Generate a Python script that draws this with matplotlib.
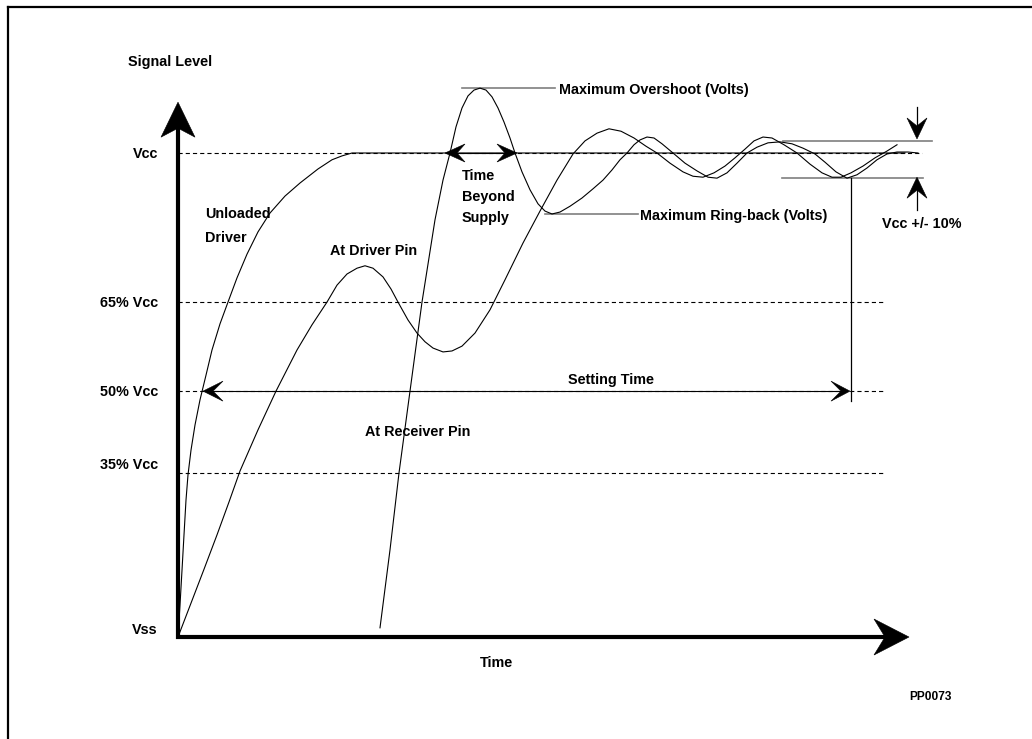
import matplotlib
matplotlib.use('Agg')
import matplotlib.pyplot as plt
from matplotlib.patches import Polygon
from matplotlib.lines import Line2D
import matplotlib.transforms as mtransforms
import numpy as np

plt.rcParams['font.family'] = ['Liberation Sans', 'DejaVu Sans']
plt.rcParams['lines.scale_dashes'] = False

# ---------------- data (time: arbitrary units, level: fraction of Vcc) ----------------
level_labels = ['Vcc', '65% Vcc', '50% Vcc', '35% Vcc', 'Vss']
level_pos = [1.0, 0.692, 0.508, 0.339, 0.0]          # drawn position of each guide level
label_pos = [0.998, 0.690, 0.506, 0.355, 0.014]      # text position of each level label

unloaded_t = [0.0, 0.2, 0.4, 0.6, 0.8, 1.0, 1.3, 1.7, 2.2, 2.8, 3.4, 4.2, 5.0, 5.9, 6.9,
              8.0, 9.2, 10.7, 12.2, 14.0, 15.4, 16.4, 17.4, 72.7]
unloaded_v = [0.0, 0.066, 0.138, 0.211, 0.283, 0.335, 0.386, 0.438, 0.490, 0.541, 0.593,
              0.647, 0.692, 0.742, 0.791, 0.837, 0.876, 0.911, 0.938, 0.967, 0.986, 0.994,
              1.0, 1.0]

driver_t = [0.0, 1.3, 2.6, 3.9, 5.1, 6.2, 8.0, 9.8, 11.9, 13.4, 14.9, 15.9, 16.9, 17.9, 18.7,
            19.5, 20.5, 21.3, 22.0, 23.0, 23.9, 24.7, 25.5, 26.5, 27.4, 28.4, 29.7, 31.2, 32.7,
            34.5, 36.2, 37.9, 39.5, 40.7, 41.9, 43.1, 44.3, 45.6, 46.8, 47.9, 49.2, 50.5, 51.5,
            52.5, 53.6, 54.7, 55.7, 56.7, 57.6, 58.5, 59.4, 60.6, 61.9, 63.2, 64.4, 65.4, 66.3,
            67.3, 68.5, 69.7, 70.9, 71.9]
driver_v = [0.0, 0.070, 0.140, 0.211, 0.279, 0.343, 0.428, 0.508, 0.593, 0.645, 0.692, 0.727,
            0.750, 0.762, 0.767, 0.762, 0.744, 0.719, 0.692, 0.655, 0.628, 0.610, 0.597, 0.589,
            0.591, 0.601, 0.628, 0.676, 0.738, 0.814, 0.880, 0.944, 0.998, 1.025, 1.041, 1.050,
            1.045, 1.031, 1.014, 1.000, 0.979, 0.961, 0.952, 0.950, 0.959, 0.973, 0.990, 1.008,
            1.025, 1.033, 1.031, 1.017, 1.000, 0.977, 0.959, 0.950, 0.950, 0.959, 0.973, 0.990,
            1.004, 1.017]

receiver_t = [20.2, 21.2, 22.1, 23.2, 24.4, 25.7, 26.5, 27.2, 27.8, 28.4, 29.0, 29.6, 30.2,
              30.8, 31.4, 32.0, 32.6, 33.2, 33.7, 34.4, 35.2, 36.0, 36.7, 37.4, 38.2, 39.2,
              40.4, 41.5, 42.5, 43.4, 44.2, 44.9, 45.6, 46.2, 46.9, 47.6, 48.4, 49.5, 50.7,
              51.9, 53.0, 53.9, 54.9, 55.9, 56.9, 57.9, 59.0, 60.2, 61.4, 62.5, 63.7, 64.7,
              65.8, 66.9, 67.9, 68.9, 69.9, 70.9, 71.9, 73.0, 74.0]
receiver_v = [0.019, 0.180, 0.339, 0.508, 0.692, 0.862, 0.944, 1.000, 1.054, 1.093, 1.118,
              1.130, 1.134, 1.130, 1.116, 1.093, 1.064, 1.031, 1.000, 0.961, 0.924, 0.895,
              0.880, 0.874, 0.878, 0.890, 0.907, 0.926, 0.944, 0.965, 0.986, 1.000, 1.017,
              1.027, 1.033, 1.031, 1.019, 1.000, 0.979, 0.963, 0.950, 0.948, 0.959, 0.979,
              1.000, 1.012, 1.021, 1.023, 1.019, 1.010, 0.998, 0.981, 0.961, 0.948, 0.955,
              0.969, 0.986, 0.998, 1.002, 1.002, 1.000]

overshoot_level = 1.134
ringback_level = 0.874
tol_high = 1.025
tol_low = 0.948
settle_t = 67.3

# ---------------- figure ----------------
W_PX, H_PX = 1032, 739
fig = plt.figure(figsize=(W_PX / 100, H_PX / 100), dpi=100)
ax = fig.add_axes([0, 0, 1, 1])
ax.set_xlim(-17.8, 85.4)
ax.set_ylim(-0.2107, 1.3161)
ax.axis('off')

FS = 10.4
txt = dict(fontsize=FS, fontweight='bold', color='black')
GRAY = '#7f7f7f'


def head(tip_t, tip_v, angle, L, Wd, N):
    verts = np.array([[0, 0], [-L, Wd], [-L + N, 0], [-L, -Wd]], float)
    a = np.deg2rad(angle)
    R = np.array([[np.cos(a), -np.sin(a)], [np.sin(a), np.cos(a)]])
    verts = verts @ R.T
    tr = mtransforms.Affine2D().scale(fig.dpi / 100.0) + \
        mtransforms.ScaledTranslation(tip_t, tip_v, ax.transData)
    ax.add_patch(Polygon(verts, closed=True, transform=tr, fc='black', ec='black',
                         lw=0.4, zorder=6))


# page border (left and top)
fig.add_artist(Line2D([8 / W_PX, 8 / W_PX], [0, 1 - 7 / H_PX], transform=fig.transFigure,
                      lw=1.6, color='black', solid_capstyle='projecting'))
fig.add_artist(Line2D([8 / W_PX, 1], [1 - 7 / H_PX, 1 - 7 / H_PX], transform=fig.transFigure,
                      lw=1.6, color='black', solid_capstyle='projecting'))

# guide levels (dashed)
for lab, pos, lp in zip(level_labels, level_pos, label_pos):
    if pos > 0:
        end = 74.4 if pos == 1.0 else 70.7
        ax.plot([0, end], [pos, pos], color='black', lw=0.8, dashes=(3.0, 2.2), zorder=2)
    ax.text(-2.0, lp, lab, ha='right', va='center', **txt)

# curves
ax.plot(unloaded_t, unloaded_v, color='black', lw=0.8, zorder=4)
ax.plot(driver_t, driver_v, color='black', lw=0.8, zorder=4)
ax.plot(receiver_t, receiver_v, color='black', lw=0.8, zorder=4)

# axes with arrow heads
ax.plot([0, 0, 71.5], [1.07, 0, 0], color='black', lw=3.0, solid_joinstyle='miter',
        solid_capstyle='butt', zorder=5)
head(0, 1.105, 90, 35, 17, 9)
head(73.1, 0, 0, 35, 18, 11)

# overshoot / ring-back markers
ax.plot([28.4, 37.7], [overshoot_level, overshoot_level], color=GRAY, lw=1.2, zorder=3)
ax.text(38.1, overshoot_level - 0.003, 'Maximum Overshoot (Volts)', ha='left', va='center', **txt)
ax.plot([36.7, 46.0], [ringback_level, ringback_level], color=GRAY, lw=1.2, zorder=3)
ax.text(46.2, ringback_level - 0.005, 'Maximum Ring-back (Volts)', ha='left', va='center', **txt)

# time beyond supply arrow
ax.plot([27.5, 33.1], [1.0, 1.0], color='black', lw=0.8, zorder=5)
head(26.7, 1.0, 180, 20, 9, 8)
head(33.9, 1.0, 0, 20, 9, 8)
ax.text(28.4, 0.967, 'Time\nBeyond\nSupply', ha='left', va='top', linespacing=1.62, **txt)

# settling time arrow
ax.plot([3.3, 66.4], [0.508, 0.508], color='black', lw=0.8, zorder=5)
head(2.5, 0.508, 180, 20, 10, 10)
head(67.2, 0.508, 0, 19, 10, 10)
ax.plot([settle_t, settle_t], [tol_low, 0.488], color='black', lw=0.9, zorder=5)
ax.text(43.3, 0.531, 'Setting Time', ha='center', va='center', **txt)

# tolerance band
ax.plot([60.5, 75.4], [tol_high, tol_high], color=GRAY, lw=1.2, zorder=3)
ax.plot([60.4, 74.5], [tol_low, tol_low], color=GRAY, lw=1.2, zorder=3)
ax.plot([73.9, 73.9], [1.095, 1.04], color='black', lw=0.9, zorder=5)
head(73.9, 1.029, -90, 21, 10, 8)
ax.plot([73.9, 73.9], [0.882, 0.94], color='black', lw=0.9, zorder=5)
head(73.9, 0.950, 90, 21, 10, 8)
ax.text(74.4, 0.853, 'Vcc +/- 10%', ha='center', va='center', **txt)

# labels
ax.text(-0.8, 1.188, 'Signal Level', ha='center', va='center', **txt)
ax.text(2.7, 0.874, 'Unloaded', ha='left', va='center', **txt)
ax.text(2.7, 0.824, 'Driver', ha='left', va='center', **txt)
ax.text(15.2, 0.798, 'At Driver Pin', ha='left', va='center', **txt)
ax.text(18.7, 0.424, 'At Receiver Pin', ha='left', va='center', **txt)
ax.text(31.9, -0.054, 'Time', ha='center', va='center', **txt)
ax.text(75.2, -0.124, 'PP0073', ha='center', va='center', fontsize=8.6, fontweight='bold')

fig.savefig('out.png', dpi=100)
